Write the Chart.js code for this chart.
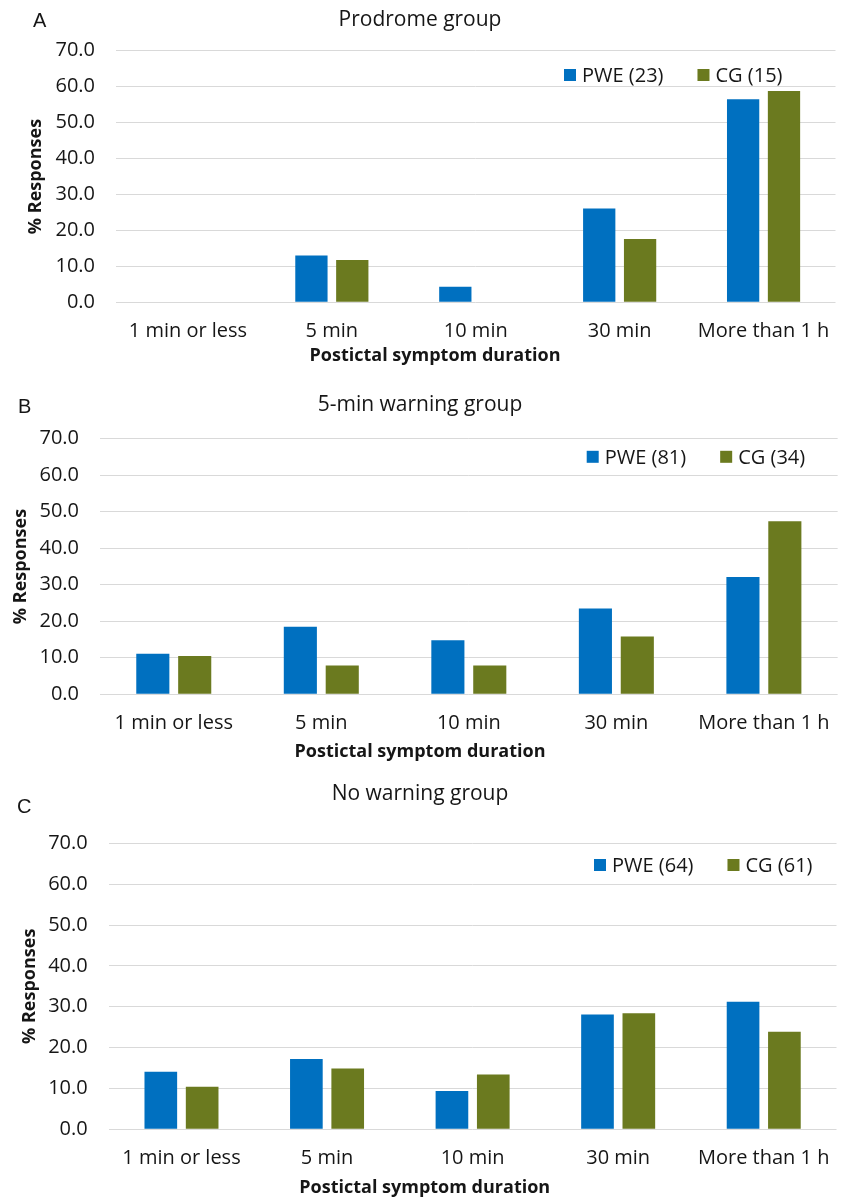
<!DOCTYPE html>
<html>
<head>
<meta charset="utf-8">
<title>Postictal symptom duration by warning group</title>
<script src="https://cdn.jsdelivr.net/npm/chart.js@4.4.1/dist/chart.umd.min.js"></script>
<style>
  html, body { margin: 0; padding: 0; background: #ffffff; }
  #wrap { position: relative; width: 847px; height: 1200px; }
  canvas { position: absolute; left: 0; }
</style>
</head>
<body>
<div id="wrap">
  <canvas id="panelA" width="847" height="390" style="top:0px"></canvas>
  <canvas id="panelB" width="847" height="390" style="top:390px"></canvas>
  <canvas id="panelC" width="847" height="420" style="top:780px"></canvas>
</div>
<script>
// Duration categories shared by all three panels
const categories = ['1 min or less', '5 min', '10 min', '30 min', 'More than 1 h'];

// % responses, prodrome group
const prodromePWE = [0, 13.0, 4.3, 26.1, 56.5];
const prodromeCG  = [0, 11.8, 0, 17.6, 58.8];

// % responses, 5-min warning group
const warningPWE = [11.1, 18.5, 14.8, 23.5, 32.1];
const warningCG  = [10.5, 7.9, 7.9, 15.8, 47.4];

// % responses, no warning group
const noWarningPWE = [14.1, 17.2, 9.4, 28.1, 31.2];
const noWarningCG  = [10.4, 14.9, 13.4, 28.4, 23.9];

// Series labels (sample sizes)
const prodromeLabels  = ['PWE (23)', 'CG (15)'];
const warningLabels   = ['PWE (81)', 'CG (34)'];
const noWarningLabels = ['PWE (64)', 'CG (61)'];

// Value axis
const yMin = 0, yMax = 70, yStep = 10;

const BLUE = '#0070C0';
const GREEN = '#6B7A1F';
const GRID = '#D9D9D9';
const TEXT = '#161616';
const FONT = "'Open Sans', 'Noto Sans', sans-serif";

// Panel letter, heading, x caption and in-plot legend
const panelDecor = {
  id: 'panelDecor',
  afterDraw(chart, args, opts) {
    const ctx = chart.ctx;
    ctx.save();
    ctx.fillStyle = TEXT;
    ctx.textBaseline = 'alphabetic';

    ctx.font = "20px 'Liberation Sans', Arial, sans-serif";
    ctx.textAlign = 'left';
    ctx.fillText(opts.letter, opts.letterX, opts.letterY);

    ctx.font = '21px ' + FONT;
    ctx.textAlign = 'center';
    ctx.fillText(opts.heading, opts.headingX, opts.headingY);

    ctx.font = 'bold 18px ' + FONT;
    ctx.fillText(opts.caption, opts.captionX, opts.captionY);

    // legend from the datasets
    ctx.font = '20px ' + FONT;
    ctx.textAlign = 'left';
    ctx.textBaseline = 'middle';
    let x = opts.legendX;
    const y = opts.legendY;
    chart.data.datasets.forEach((ds) => {
      ctx.fillStyle = ds.backgroundColor;
      ctx.fillRect(x, y - 6, 12, 12);
      ctx.fillStyle = TEXT;
      ctx.fillText(ds.label, x + 18, y + 1);
      x += 18 + ctx.measureText(ds.label).width + 34;
    });
    ctx.restore();
  }
};

function makePanel(canvasId, pwe, cg, labels, g) {
  const H = document.getElementById(canvasId).height;
  const xAxisH = 40;
  return new Chart(document.getElementById(canvasId), {
    type: 'bar',
    data: {
      labels: categories,
      datasets: [
        { label: labels[0], data: pwe, backgroundColor: BLUE },
        { label: labels[1], data: cg, backgroundColor: GREEN }
      ]
    },
    plugins: [panelDecor],
    options: {
      responsive: false,
      animation: false,
      devicePixelRatio: 1,
      layout: {
        padding: {
          left: 0,
          top: g.top,
          right: 847 - g.right,
          bottom: H - g.bottom - xAxisH
        }
      },
      datasets: {
        bar: { categoryPercentage: 0.568, barPercentage: 0.79 }
      },
      plugins: {
        legend: { display: false },
        title: { display: false },
        tooltip: { enabled: false },
        panelDecor: g.decor
      },
      scales: {
        x: {
          grid: { display: false, drawTicks: false },
          border: { display: false },
          ticks: { color: TEXT, font: { family: FONT, size: 20 }, padding: 17, maxRotation: 0, autoSkip: false },
          afterFit(scale) { scale.height = xAxisH; }
        },
        y: {
          min: yMin,
          max: yMax,
          grid: { color: GRID, lineWidth: 1, drawTicks: false },
          border: { display: false },
          ticks: {
            stepSize: yStep,
            color: TEXT,
            font: { family: FONT, size: 20 },
            padding: 21,
            callback: (v) => Number(v).toFixed(1)
          },
          title: {
            display: true,
            text: '% Responses',
            color: TEXT,
            font: { family: FONT, size: 18, weight: 'bold' },
            padding: { top: g.yTitlePad, bottom: 0 }
          },
          afterFit(scale) { scale.width = g.left; }
        }
      }
    }
  });
}

makePanel('panelA', prodromePWE, prodromeCG, prodromeLabels, {
  left: 116, right: 840, top: 50.7, bottom: 302.3, yTitlePad: 25.3,
  decor: {
    letter: 'A', letterX: 33, letterY: 26.7,
    heading: 'Prodrome group', headingX: 420, headingY: 26,
    caption: 'Postictal symptom duration', captionX: 435, captionY: 361,
    legendX: 564, legendY: 75
  }
});

makePanel('panelB', warningPWE, warningCG, warningLabels, {
  left: 100, right: 843.3, top: 48.7, bottom: 304.3, yTitlePad: 10.2,
  decor: {
    letter: 'B', letterX: 18, letterY: 23.3,
    heading: '5-min warning group', headingX: 420, headingY: 20.7,
    caption: 'Postictal symptom duration', captionX: 420, captionY: 367.3,
    legendX: 586.7, legendY: 66.8
  }
});

makePanel('panelC', noWarningPWE, noWarningCG, noWarningLabels, {
  left: 108.7, right: 841.7, top: 63.3, bottom: 349.3, yTitlePad: 19,
  decor: {
    letter: 'C', letterX: 17, letterY: 33.3,
    heading: 'No warning group', headingX: 420, headingY: 20,
    caption: 'Postictal symptom duration', captionX: 424.7, captionY: 413.3,
    legendX: 594, legendY: 85
  }
});
</script>
</body>
</html>
